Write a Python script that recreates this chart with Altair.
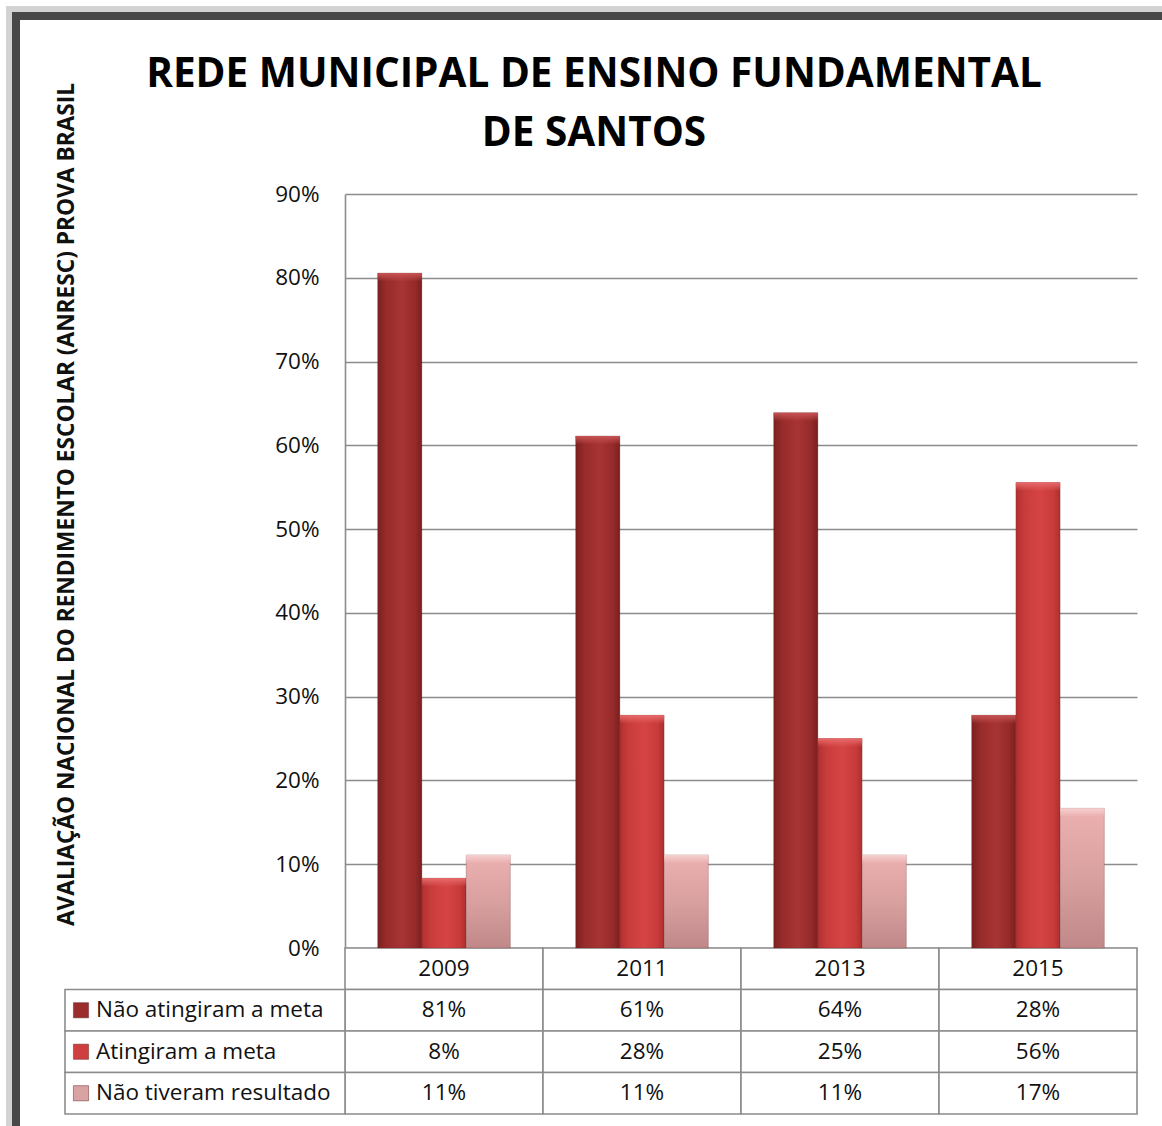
import altair as alt
import pandas as pd

# ---------------- data ----------------
years = ["2009", "2011", "2013", "2015"]
series = ["Não atingiram a meta", "Atingiram a meta", "Não tiveram resultado"]
nao_atingiram = [80.56, 61.11, 63.89, 27.78]
atingiram = [8.33, 27.78, 25.00, 55.56]
sem_resultado = [11.11, 11.11, 11.11, 16.67]
y_ticks = [0, 10, 20, 30, 40, 50, 60, 70, 80, 90]
title_text = "REDE MUNICIPAL DE ENSINO FUNDAMENTAL\nDE SANTOS"
y_title = "AVALIAÇÃO NACIONAL DO RENDIMENTO ESCOLAR (ANRESC) PROVA BRASIL"
header_row = "Ano"

values_by_series = dict(zip(series, [nao_atingiram, atingiram, sem_resultado]))
bars_df = pd.DataFrame(
    [{"year": y, "series": s, "value": v}
     for s in series for y, v in zip(years, values_by_series[s])]
)
rows = [header_row] + series
table_records = [{"row": header_row, "year": y, "label": y} for y in years]
for s in series:
    for y, v in zip(years, values_by_series[s]):
        table_records.append({"row": s, "year": y, "label": f"{round(v)}%"})
table_df = pd.DataFrame(table_records)
legend_df = pd.DataFrame({"row": series})
one_df = pd.DataFrame({"k": [0]})

# ---------------- style ----------------
W, H = 792, 754
FONT = "Open Sans"
GRID = "#8c8c8c"
TXT = 22.5
swatch_colors = ["#9a2c2c", "#cf3f3f", "#d9a3a3"]
bevel_tops = ["#c85454", "#e86a6a", "#f6d0d0"]

gradients = [
    alt.Gradient(gradient="linear", x1=0, x2=1, y1=0, y2=0, stops=[
        alt.GradientStop(offset=0, color="#7c2020"),
        alt.GradientStop(offset=0.2, color="#982b2b"),
        alt.GradientStop(offset=0.55, color="#a83434"),
        alt.GradientStop(offset=0.85, color="#952a2a"),
        alt.GradientStop(offset=1, color="#7a1f1f")]),
    alt.Gradient(gradient="linear", x1=0, x2=1, y1=0, y2=0, stops=[
        alt.GradientStop(offset=0, color="#b13030"),
        alt.GradientStop(offset=0.2, color="#c93c3c"),
        alt.GradientStop(offset=0.55, color="#d64444"),
        alt.GradientStop(offset=0.85, color="#c83b3b"),
        alt.GradientStop(offset=1, color="#ae2f2f")]),
    alt.Gradient(gradient="linear", x1=0, x2=0, y1=0, y2=1, stops=[
        alt.GradientStop(offset=0, color="#ecb0b0"),
        alt.GradientStop(offset=0.5, color="#d9a0a0"),
        alt.GradientStop(offset=1, color="#c08888")]),
]

x_bar = alt.X("year:N", sort=years,
              scale=alt.Scale(domain=years, paddingInner=0.33, paddingOuter=0.165),
              axis=None)
x_off = alt.XOffset("series:N", sort=series,
                    scale=alt.Scale(domain=series, paddingInner=0, paddingOuter=0))

y_axis = alt.Axis(
    values=y_ticks, labelExpr="datum.value + '%'", grid=True, gridColor=GRID,
    gridWidth=1.6, domainColor=GRID, domainWidth=1.6, ticks=False,
    labelPadding=26, labelFont=FONT, labelFontSize=TXT, labelColor="#111111",
    title=y_title, titleFont=FONT, titleFontSize=22.7, titleFontWeight="bold",
    titleColor="#111111", titleX=-272, titleY=310, titleAngle=270,
    titleBaseline="alphabetic", titleAlign="center",
)

bar_layers = []
for i, s in enumerate(series):
    yenc = alt.Y("value:Q", scale=alt.Scale(domain=[0, 90], nice=False),
                 axis=y_axis if i == 0 else None)
    bar_layers.append(
        alt.Chart(bars_df).transform_filter(alt.datum.series == s)
        .mark_bar(color=gradients[i], stroke="#5a1a1a", strokeWidth=0.4, strokeOpacity=0.6)
        .encode(x=x_bar, xOffset=x_off, y=yenc)
    )
    # light bevel along the top of each bar
    bevel = alt.Gradient(gradient="linear", x1=0, x2=0, y1=0, y2=1, stops=[
        alt.GradientStop(offset=0, color=bevel_tops[i]),
        alt.GradientStop(offset=1, color=bevel_tops[i] + "00")])
    bar_layers.append(
        alt.Chart(bars_df).transform_filter(alt.datum.series == s)
        .transform_calculate(bevel_base="datum.value - 1.0")
        .mark_bar(color=bevel)
        .encode(x=x_bar, xOffset=x_off,
                y=alt.Y("value:Q", scale=alt.Scale(domain=[0, 90], nice=False), axis=None),
                y2="bevel_base:Q")
    )

x_tab = alt.X("year:N", sort=years,
              scale=alt.Scale(domain=years, paddingInner=0, paddingOuter=0), axis=None)
y_tab = alt.Y("row:N", sort=rows,
              scale=alt.Scale(domain=rows, range=[754, 920], paddingInner=0, paddingOuter=0),
              axis=None)

frame_shadow = alt.Chart(one_df).mark_rect(
    fill="transparent", stroke="#b5b5b5", strokeWidth=6, strokeOpacity=0.6
).encode(x=alt.value(-336), x2=alt.value(1200), y=alt.value(-185), y2=alt.value(1200))
frame = alt.Chart(one_df).mark_rect(
    fill="transparent", stroke="#484848", strokeWidth=8
).encode(x=alt.value(-329), x2=alt.value(1200), y=alt.value(-178), y2=alt.value(1200))

cells = alt.Chart(table_df).mark_rect(fill="white", stroke=GRID, strokeWidth=1.6).encode(
    x=x_tab, y=y_tab)
cell_text = alt.Chart(table_df).mark_text(font=FONT, fontSize=TXT, color="#111111").encode(
    x=x_tab, y=y_tab, text="label:N")

legend_cells = alt.Chart(legend_df).mark_rect(fill="white", stroke=GRID, strokeWidth=1.6).encode(
    x=alt.value(-280), x2=alt.value(0), y=y_tab)
legend_swatch = alt.Chart(legend_df).mark_square(size=230, opacity=1, stroke="#6a2a2a",
                                                 strokeWidth=0.5).encode(
    x=alt.value(-264), y=y_tab,
    color=alt.Color("row:N", scale=alt.Scale(domain=series, range=swatch_colors), legend=None))
legend_text = alt.Chart(legend_df).mark_text(font=FONT, fontSize=TXT, color="#111111",
                                             align="left").encode(
    x=alt.value(-249), y=y_tab, text="row:N")

title_mark = alt.Chart(one_df).mark_text(
    font=FONT, fontSize=40.5, fontWeight="bold", color="black", align="center",
    baseline="alphabetic", lineBreak="\n", lineHeight=59
).encode(x=alt.value(249), y=alt.value(-107), text=alt.value(title_text))

chart = alt.layer(
    frame_shadow, frame, cells, cell_text, legend_cells, legend_swatch, legend_text,
    title_mark, *bar_layers
).resolve_scale(x="independent", y="independent").properties(
    width=W, height=H,
    autosize=alt.AutoSizeParams(type="none"),
    padding={"left": 345, "top": 194, "right": 25, "bottom": 178},
    background="white",
).configure_view(stroke=None)

chart.save("out.html", embed_options={"renderer": "svg", "actions": False})
